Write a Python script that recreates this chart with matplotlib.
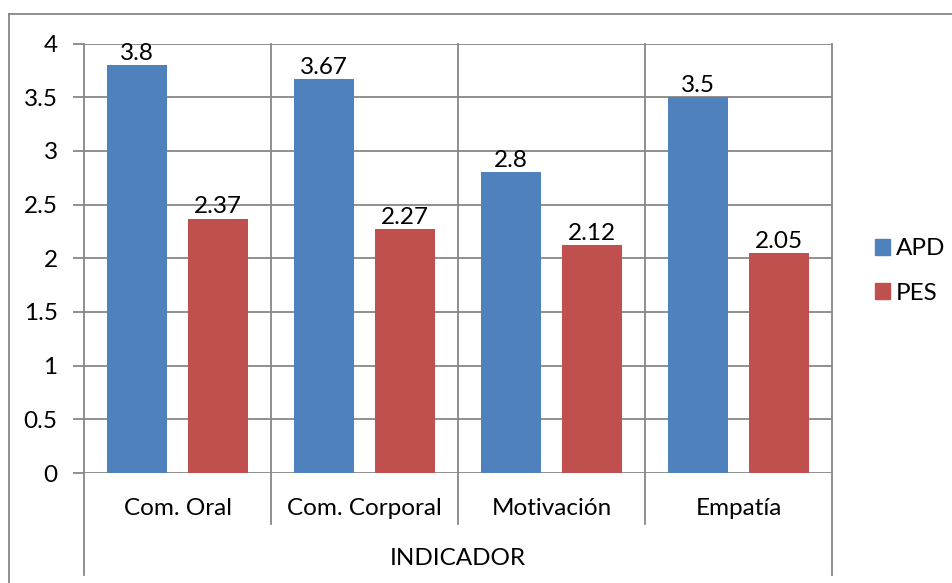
import matplotlib
matplotlib.use("Agg")
import matplotlib.pyplot as plt
from matplotlib.lines import Line2D
from matplotlib.patches import Patch

categories = ["Com. Oral", "Com. Corporal", "Motivación", "Empatía"]
apd = [3.8, 3.67, 2.8, 3.5]
pes = [2.37, 2.27, 2.12, 2.05]
series_names = ["APD", "PES"]
y_ticks = [0, 0.5, 1, 1.5, 2, 2.5, 3, 3.5, 4]
y_tick_labels = ["0", "0.5", "1", "1.5", "2", "2.5", "3", "3.5", "4"]
axis_title = "INDICADOR"

plt.rcParams['font.family'] = ['Lato', 'DejaVu Sans']
BLUE = "#4F81BD"
RED = "#C0504D"
GRID = "#878787"
FS = 17.5

W, H = 952, 583
fig = plt.figure(figsize=(W / 100, H / 100), dpi=100)
L, R, T, B = 84, 832, 43.5, 473
ax = fig.add_axes([L / W, 1 - B / H, (R - L) / W, (B - T) / H])

x = list(range(len(categories)))
bw = 0.32
off = 0.217
xb = [i - off for i in x]
xr = [i + off for i in x]
ax.bar(xb, apd, width=bw, color=BLUE, zorder=3, label=series_names[0])
ax.bar(xr, pes, width=bw, color=RED, zorder=3, label=series_names[1])

for xs, vals in ((xb, apd), (xr, pes)):
    for xi, v in zip(xs, vals):
        ax.text(xi, v + 0.01, f"{v:g}", ha="center", va="bottom", fontsize=FS, color="black", zorder=4)

ax.set_xlim(-0.5, len(categories) - 0.5)
ax.set_ylim(0, 4)
ax.set_yticks(y_ticks)
ax.set_yticklabels(y_tick_labels, fontsize=FS)
ax.tick_params(axis='y', length=8, width=1.3, color=GRID, pad=11)
ax.set_xticks([])
for s in ax.spines.values():
    s.set_visible(False)
for yv in y_ticks:
    ax.axhline(yv, color=GRID, lw=1.3, zorder=1)

xt = ax.get_xaxis_transform()
n = len(categories)
for k in range(n + 1):
    xv = k - 0.5
    bottom = -0.2375 if k in (0, n) else -0.119
    ax.plot([xv, xv], [1, bottom], transform=xt, color=GRID, lw=1.3, clip_on=False, zorder=1)

for i, c in enumerate(categories):
    ax.text(i, -0.0815, c, transform=xt, ha="center", va="center", fontsize=FS)
ax.text((n - 1) / 2, -0.198, axis_title, transform=xt, ha="center", va="center", fontsize=FS)

# outer chart border (left and top only visible)
fig.add_artist(Line2D([8.5 / W, 1.0], [1 - 13.5 / H, 1 - 13.5 / H], color=GRID, lw=1.3))
fig.add_artist(Line2D([8.5 / W, 8.5 / W], [0, 1 - 13.5 / H], color=GRID, lw=1.3))

handles = [Patch(color=BLUE), Patch(color=RED)]
fig.legend(handles, series_names, loc="center left", bbox_to_anchor=(875 / W, 1 - 271 / H),
           frameon=False, fontsize=FS, handlelength=0.6, handleheight=0.6,
           handletextpad=0.25, labelspacing=0.95, borderaxespad=0, borderpad=0)

fig.savefig("out.png", dpi=100)
